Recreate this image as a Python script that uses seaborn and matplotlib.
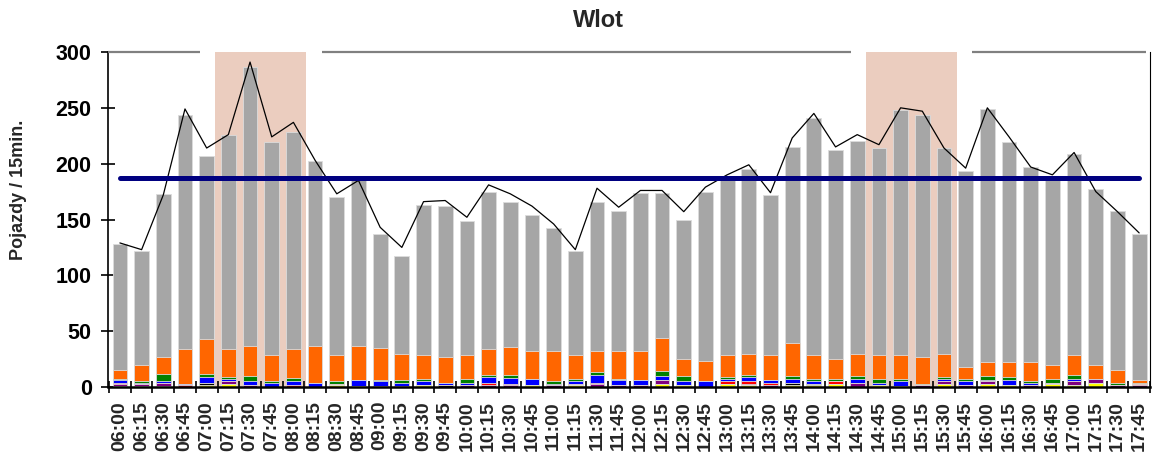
import numpy as np
import pandas as pd
import matplotlib
matplotlib.use("Agg")
import matplotlib.pyplot as plt
import seaborn as sns

times = [
    "06:00", "06:15", "06:30", "06:45", "07:00", "07:15", "07:30", "07:45",
    "08:00", "08:15", "08:30", "08:45", "09:00", "09:15", "09:30", "09:45",
    "10:00", "10:15", "10:30", "10:45", "11:00", "11:15", "11:30", "11:45",
    "12:00", "12:15", "12:30", "12:45", "13:00", "13:15", "13:30", "13:45",
    "14:00", "14:15", "14:30", "14:45", "15:00", "15:15", "15:30", "15:45",
    "16:00", "16:15", "16:30", "16:45", "17:00", "17:15", "17:30", "17:45",
]

# stacked series, bottom -> top
yellow = [1, 1, 1, 0, 2, 3, 0, 0, 0, 0, 2, 1, 0, 0, 2, 0,
          0, 0, 0, 2, 0, 2, 0, 0, 0, 3, 2, 0, 3, 2, 0, 2,
          2, 3, 0, 2, 1, 0, 3, 0, 3, 2, 0, 3, 2, 4, 0, 0]
black = [0, 0, 0, 0, 2, 0, 0, 0, 0, 0, 0, 0, 1, 0, 0, 2,
         0, 0, 0, 0, 0, 0, 0, 0, 0, 0, 0, 0, 0, 0, 0, 2,
         1, 0, 0, 0, 0, 0, 0, 0, 0, 0, 0, 0, 0, 0, 0, 0]
purple = [2, 2, 3, 0, 0, 2, 2, 0, 0, 0, 0, 0, 0, 0, 0, 0,
          2, 2, 2, 0, 2, 1, 3, 2, 2, 3, 0, 0, 0, 1, 2, 0,
          0, 0, 4, 0, 0, 2, 2, 2, 2, 0, 2, 1, 3, 3, 2, 2]
red = [1, 0, 0, 2, 0, 0, 0, 0, 2, 0, 1, 0, 0, 1, 0, 0,
       0, 2, 1, 0, 0, 0, 1, 0, 0, 0, 0, 0, 2, 2, 2, 0,
       0, 2, 0, 0, 0, 0, 0, 0, 0, 0, 0, 0, 0, 0, 0, 1]
blue = [2, 1, 1, 1, 5, 2, 3, 4, 3, 4, 0, 5, 4, 3, 3, 2,
        2, 5, 5, 5, 1, 2, 7, 4, 4, 4, 3, 5, 2, 4, 2, 3,
        2, 0, 3, 2, 4, 0, 2, 3, 1, 4, 2, 0, 2, 0, 0, 0]
green = [1, 1, 7, 0, 3, 2, 5, 1, 3, 0, 2, 0, 1, 2, 2, 0,
         3, 2, 3, 0, 2, 2, 2, 1, 0, 4, 5, 0, 2, 2, 0, 3,
         2, 2, 3, 3, 2, 1, 2, 2, 4, 3, 1, 3, 4, 0, 2, 1]
orange = [8, 15, 15, 31, 31, 25, 27, 24, 26, 33, 24, 31, 29, 24, 22, 23,
          22, 23, 25, 25, 27, 22, 19, 25, 26, 30, 15, 18, 20, 19, 23, 29,
          22, 18, 20, 22, 22, 24, 21, 11, 12, 13, 17, 13, 18, 13, 11, 2]
gray = [113, 102, 146, 210, 164, 192, 250, 190, 194, 165, 141, 148, 102, 87, 134, 135,
        120, 141, 130, 122, 110, 93, 134, 126, 142, 130, 125, 152, 157, 165, 143, 176,
        212, 187, 190, 185, 219, 217, 184, 175, 227, 197, 175, 169, 180, 157, 143, 131]

line_vals = [129, 123, 172, 249, 214, 226, 291, 224, 237, 203, 173, 185, 143, 125, 166, 167,
             152, 181, 173, 162, 146, 123, 178, 161, 176, 176, 157, 179, 190, 199, 174, 223,
             245, 215, 226, 217, 250, 247, 214, 196, 250, 224, 197, 190, 210, 175, 157, 138]

average = 187
peaks = [("07:15", "08:00"), ("14:45", "15:30")]

series = {
    "yellow": yellow, "black": black, "purple": purple, "red": red,
    "blue": blue, "green": green, "orange": orange, "gray": gray,
}
colors = {
    "yellow": "#FFFF00", "black": "#000000", "purple": "#800080", "red": "#FF0000",
    "blue": "#0000FF", "green": "#008000", "orange": "#FF6600", "gray": "#A6A6A6",
}

sns.set_style("white")
plt.rcParams["font.family"] = ["Liberation Sans", "DejaVu Sans"]

df = pd.DataFrame(series, index=times)
cum = df.cumsum(axis=1)
pos = np.arange(len(times))

fig = plt.figure(figsize=(11.66, 4.59), dpi=100)
ax = fig.add_axes([108 / 1166, 1 - 387 / 459, (1150 - 108) / 1166, (387 - 52) / 459])

# peak hour shading
spans = [(times.index(a) - 0.6, times.index(b) + 0.6) for a, b in peaks]
for s, e in spans:
    ax.axvspan(s, e, facecolor="#ebcdbf", edgecolor="none", zorder=0)

# stacked bars, drawn from the top layer down
for name in reversed(list(series.keys())):
    sns.barplot(x=times, y=cum[name].values, color=colors[name], width=0.68,
                saturation=1, edgecolor="#dcdcdc", linewidth=0.6, ax=ax, zorder=2)

sns.lineplot(x=pos, y=line_vals, color="black", linewidth=0.9, ax=ax, zorder=4)
ax.hlines(average, pos[0], pos[-1], color="#000080", linewidth=3.6,
          capstyle="round", zorder=5)

xmin, xmax = -0.55, len(times) - 1 + 0.32
ax.set_xlim(xmin, xmax)
ax.set_ylim(0, 300)

# broken gray top border
edges = [xmin] + [v for s, e in spans for v in (s - 0.7, e + 0.7)] + [xmax]
for a, b in zip(edges[::2], edges[1::2]):
    ax.plot([a, b], [300, 300], color="#808080", linewidth=1.6,
            clip_on=False, zorder=6, solid_capstyle="butt")

ax.spines["top"].set_visible(False)
ax.spines["right"].set_color("black")
ax.spines["right"].set_linewidth(0.8)
ax.spines["left"].set_color("black")
ax.spines["left"].set_linewidth(1.2)
ax.spines["bottom"].set_color("black")
ax.spines["bottom"].set_linewidth(1.8)

ax.set_yticks(range(0, 301, 50))
ax.tick_params(axis="y", direction="inout", length=9.5, width=1.2, labelsize=15.5,
               pad=7, colors="black", left=True)
ax.set_xticks(pos)
ax.set_xticklabels(times, rotation=90)
ax.set_xticks(np.arange(-0.5, len(times), 1), minor=True)
ax.tick_params(axis="x", which="major", length=0, labelsize=14, pad=10)
ax.tick_params(axis="x", which="minor", direction="inout", length=8, width=1.2,
               colors="black", bottom=True)
for lbl in ax.get_xticklabels() + ax.get_yticklabels():
    lbl.set_fontweight("bold")

ax.set_xlabel("")
ax.set_ylabel("Pojazdy / 15min.", fontsize=13, fontweight="bold")
ax.yaxis.set_label_coords(-0.0777, 0.588)

fig.text(0.513, 0.955, "Wlot", ha="center", va="center", fontsize=17,
         fontweight="bold", family=["Liberation Sans Narrow", "Liberation Sans"])

fig.savefig("out.png", dpi=100)
